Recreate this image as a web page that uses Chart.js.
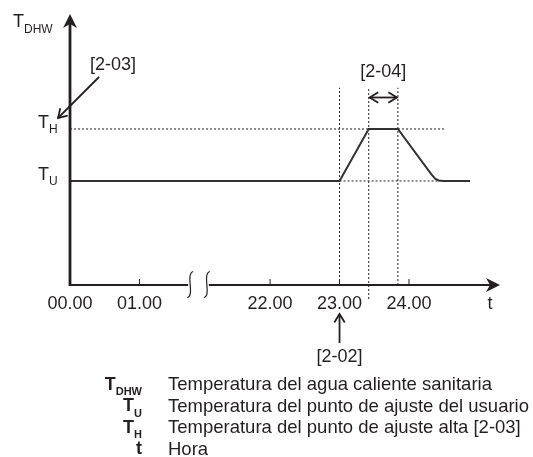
<!DOCTYPE html>
<html>
<head>
<meta charset="utf-8">
<script src="https://cdn.jsdelivr.net/npm/chart.js@4"></script>
<style>
  body { margin: 0; background: #fff; }
  #wrap { width: 533px; height: 457px; position: relative; }
</style>
</head>
<body>
<div id="wrap"><canvas id="dhwChart"></canvas></div>
<script>
// temperature profile (hours, level: 0 = axis, TU = 2, TH = 3)
const timeHours = [0, 23.0, 23.42, 23.84, 24.32, 24.38, 24.43, 24.49, 24.88];
const tempLevels = [2, 2, 3, 3, 2.13, 2.04, 2.01, 2.0, 2.0];
const levelTU = 2;
const levelTH = 3;
const markerHours = [23.0, 23.42, 23.84];

const tickHours = [0, 1, 22, 23, 24];
const tickLabels = ["00.00", "01.00", "22.00", "23.00", "24.00"];

const legendKeys = [["T", "DHW"], ["T", "U"], ["T", "H"], ["t", ""]];
const legendTexts = [
  "Temperatura del agua caliente sanitaria",
  "Temperatura del punto de ajuste del usuario",
  "Temperatura del punto de ajuste alta [2-03]",
  "Hora",
];

// axis is broken between 01.00 and 22.00
const hourGap = 19.12;
const pos = (h) => (h < 12 ? h : h - hourGap);

const ink = "#231f20";
const font = "'Liberation Sans', Arial, sans-serif";

const dotted = (pts, extra) => Object.assign({
  data: pts,
  showLine: true,
  borderColor: ink,
  borderWidth: 1,
  borderDash: [2, 2],
  pointRadius: 0,
}, extra || {});

function arrowHead(ctx, x, y, angle, len) {
  ctx.beginPath();
  ctx.moveTo(x + len * Math.cos(angle + 0.55), y + len * Math.sin(angle + 0.55));
  ctx.lineTo(x, y);
  ctx.lineTo(x + len * Math.cos(angle - 0.55), y + len * Math.sin(angle - 0.55));
  ctx.stroke();
}

function subText(ctx, x, y, main, sub, size, subSize, bold, align) {
  const w = bold ? "bold " : "";
  ctx.font = w + size + "px " + font;
  const mw = ctx.measureText(main).width;
  ctx.font = w + subSize + "px " + font;
  const sw = ctx.measureText(sub).width;
  let left = x;
  if (align === "right") left = x - mw - sw;
  ctx.textAlign = "left";
  ctx.textBaseline = "middle";
  ctx.font = w + size + "px " + font;
  ctx.fillText(main, left, y);
  ctx.font = w + subSize + "px " + font;
  ctx.fillText(sub, left + mw, y + size * 0.4);
}

const diagram = {
  id: "diagram",
  afterDatasetsDraw(chart) {
    const { ctx, scales: { x, y } } = chart;
    const X = (h) => x.getPixelForValue(pos(h));
    const Y = (v) => y.getPixelForValue(v);
    const x0 = X(0), y0 = Y(0);
    const xEnd = x.getPixelForValue(x.max);
    const yTop = y.getPixelForValue(y.max);
    const breakL = x.getPixelForValue(1.73), breakR = x.getPixelForValue(1.97);

    ctx.save();
    ctx.strokeStyle = ink;
    ctx.fillStyle = ink;
    ctx.lineCap = "butt";

    // axes
    ctx.lineWidth = 2.8;
    ctx.beginPath();
    ctx.moveTo(x0, y0 + 1);
    ctx.lineTo(x0, yTop + 8);
    ctx.stroke();
    ctx.lineWidth = 2;
    ctx.beginPath();
    ctx.moveTo(x0, y0);
    ctx.lineTo(breakL - 2, y0);
    ctx.moveTo(breakR + 2, y0);
    ctx.lineTo(xEnd - 8, y0);
    ctx.stroke();

    // arrow heads
    ctx.beginPath();
    ctx.moveTo(x0, yTop);
    ctx.lineTo(x0 - 7, yTop + 14);
    ctx.lineTo(x0, yTop + 10);
    ctx.lineTo(x0 + 7, yTop + 14);
    ctx.closePath();
    ctx.fill();
    ctx.beginPath();
    ctx.moveTo(xEnd, y0);
    ctx.lineTo(xEnd - 14, y0 - 7);
    ctx.lineTo(xEnd - 10, y0);
    ctx.lineTo(xEnd - 14, y0 + 7);
    ctx.closePath();
    ctx.fill();

    // break marks
    ctx.lineWidth = 1.2;
    [breakL, breakR].forEach((bx) => {
      ctx.beginPath();
      ctx.moveTo(bx - 3, y0 + 12.5);
      ctx.bezierCurveTo(bx + 5, y0 + 11, bx - 5, y0 - 11, bx + 3, y0 - 13.5);
      ctx.stroke();
    });

    // ticks + labels
    ctx.lineWidth = 1;
    ctx.font = "18px " + font;
    ctx.textAlign = "center";
    ctx.textBaseline = "middle";
    tickHours.forEach((h, i) => {
      const tx = X(h);
      ctx.beginPath();
      ctx.moveTo(tx, y0 - 6);
      ctx.lineTo(tx, y0 + 1);
      ctx.stroke();
      ctx.fillText(tickLabels[i], tx, y0 + 19);
    });
    ctx.fillText("t", xEnd - 10, y0 + 19);

    // y labels
    subText(ctx, 13, 22, "T", "DHW", 18, 12, false, "left");
    subText(ctx, 38, Y(levelTH) - 6, "T", "H", 18, 12, false, "left");
    subText(ctx, 38, Y(levelTU) - 6, "T", "U", 18, 12, false, "left");

    // [2-03]
    ctx.font = "18px " + font;
    ctx.textAlign = "center";
    ctx.fillText("[2-03]", 113, 65);
    ctx.lineWidth = 1.8;
    ctx.beginPath();
    ctx.moveTo(99, 77);
    ctx.lineTo(58, 118);
    ctx.stroke();
    arrowHead(ctx, 58, 118, -Math.PI / 4, 10);

    // [2-04]
    const a1 = X(markerHours[1]), a2 = X(markerHours[2]);
    ctx.fillText("[2-04]", (a1 + a2) / 2, 72);
    ctx.beginPath();
    ctx.moveTo(a1 + 1, 97.5);
    ctx.lineTo(a2 - 1, 97.5);
    ctx.stroke();
    arrowHead(ctx, a1 + 1, 97.5, 0, 10);
    arrowHead(ctx, a2 - 1, 97.5, Math.PI, 10);

    // [2-02]
    const a0 = X(markerHours[0]);
    ctx.fillText("[2-02]", a0, 357);
    ctx.beginPath();
    ctx.moveTo(a0, 343);
    ctx.lineTo(a0, 314);
    ctx.stroke();
    arrowHead(ctx, a0, 314, Math.PI / 2, 10);

    // legend
    legendKeys.forEach((k, i) => {
      const ly = 385 + 21.5 * i;
      subText(ctx, 142, ly, k[0], k[1], 18, 11, true, "right");
      ctx.font = "18.5px " + font;
      ctx.textAlign = "left";
      ctx.fillText(legendTexts[i], 168, ly);
    });
    ctx.restore();
  },
};

new Chart(document.getElementById("dhwChart"), {
  type: "scatter",
  data: {
    datasets: [
      {
        data: timeHours.map((h, i) => ({ x: pos(h), y: tempLevels[i] })),
        showLine: true,
        borderColor: "#333",
        borderWidth: 2,
        pointRadius: 0,
        tension: 0,
      },
      dotted([{ x: 0, y: levelTH }, { x: pos(24.52), y: levelTH }]),
      dotted([{ x: pos(23.0), y: levelTU }, { x: pos(24.45), y: levelTU }]),
      dotted([{ x: pos(markerHours[0]), y: 0 }, { x: pos(markerHours[0]), y: 3.79 }]),
      dotted([{ x: pos(markerHours[1]), y: -0.27 }, { x: pos(markerHours[1]), y: 3.79 }], { clip: false }),
      dotted([{ x: pos(markerHours[2]), y: 0 }, { x: pos(markerHours[2]), y: 3.79 }]),
    ],
  },
  options: {
    responsive: true,
    maintainAspectRatio: false,
    animation: false,
    layout: {
      padding: { left: 70, right: 33, top: 14, bottom: 172 },
    },
    plugins: {
      legend: { display: false },
      tooltip: { enabled: false },
    },
    scales: {
      x: { type: "linear", min: 0, max: 6.19, display: false },
      y: { type: "linear", min: 0, max: 5.21, display: false },
    },
  },
  plugins: [diagram],
});
</script>
</body>
</html>
